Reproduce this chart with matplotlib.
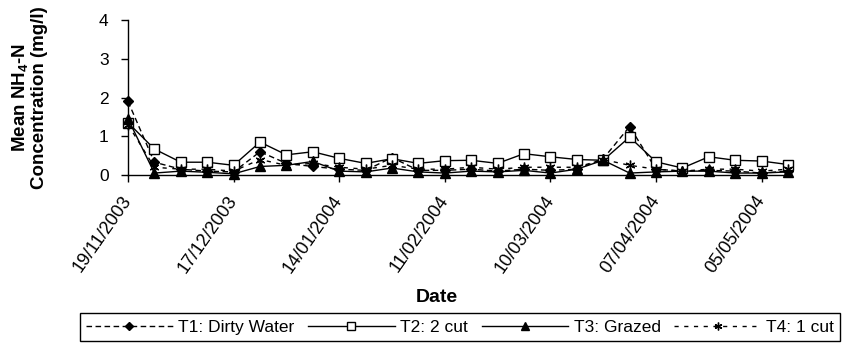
import matplotlib
matplotlib.use("Agg")
import matplotlib.pyplot as plt
import matplotlib.dates as mdates
import pandas as pd

plt.rcParams['font.family'] = ['Liberation Sans', 'DejaVu Sans']
plt.rcParams['mathtext.fontset'] = 'custom'
plt.rcParams['mathtext.rm'] = 'Liberation Sans'
plt.rcParams['mathtext.bf'] = 'Liberation Sans:bold'

# weekly sampling dates
dates = ["19/11/2003", "26/11/2003", "03/12/2003", "10/12/2003", "17/12/2003",
         "24/12/2003", "31/12/2003", "07/01/2004", "14/01/2004", "21/01/2004",
         "28/01/2004", "04/02/2004", "11/02/2004", "18/02/2004", "25/02/2004",
         "03/03/2004", "10/03/2004", "17/03/2004", "24/03/2004", "31/03/2004",
         "07/04/2004", "14/04/2004", "21/04/2004", "28/04/2004", "05/05/2004",
         "12/05/2004"]

# mean NH4-N (mg/l) per treatment
t1_dirty_water = [1.90, 0.33, 0.15, 0.10, 0.08, 0.60, 0.30, 0.22, 0.15, 0.12,
                  0.45, 0.12, 0.12, 0.15, 0.10, 0.15, 0.12, 0.15, 0.42, 1.25,
                  0.15, 0.10, 0.12, 0.10, 0.05, 0.10]
t2_2cut = [1.35, 0.67, 0.33, 0.33, 0.25, 0.85, 0.52, 0.60, 0.43, 0.30,
           0.42, 0.30, 0.37, 0.38, 0.30, 0.55, 0.47, 0.40, 0.38, 0.98,
           0.34, 0.18, 0.47, 0.38, 0.36, 0.27]
t3_grazed = [1.45, 0.05, 0.10, 0.07, 0.03, 0.22, 0.25, 0.35, 0.10, 0.08,
             0.18, 0.08, 0.05, 0.10, 0.08, 0.12, 0.05, 0.15, 0.38, 0.05,
             0.08, 0.10, 0.10, 0.05, 0.05, 0.08]
t4_1cut = [1.30, 0.20, 0.15, 0.15, 0.10, 0.40, 0.25, 0.30, 0.20, 0.15,
           0.25, 0.15, 0.15, 0.20, 0.15, 0.20, 0.20, 0.20, 0.40, 0.25,
           0.15, 0.10, 0.15, 0.15, 0.10, 0.15]

tick_dates = ["19/11/2003", "17/12/2003", "14/01/2004", "11/02/2004",
              "10/03/2004", "07/04/2004", "05/05/2004"]
series_labels = ["T1: Dirty Water", "T2: 2 cut", "T3: Grazed", "T4: 1 cut"]

x = pd.to_datetime(dates, dayfirst=True)
xt = pd.to_datetime(tick_dates, dayfirst=True)

fig = plt.figure(figsize=(8.43, 3.44), dpi=100)
ax = fig.add_axes([128 / 843, 1 - 175 / 344, 660 / 843, 155 / 344])

h1, = ax.plot(x, t1_dirty_water, color='black', lw=1, ls=(0, (4, 2.5)),
              marker='D', ms=5.5, mfc='black', mec='black', clip_on=False)
h2, = ax.plot(x, t2_2cut, color='black', lw=1, ls='-',
              marker='s', ms=6.5, mfc='white', mec='black', mew=1, clip_on=False)
h3, = ax.plot(x, t3_grazed, color='black', lw=1, ls='-',
              marker='^', ms=6.5, mfc='black', mec='black', clip_on=False)
h4, = ax.plot(x, t4_1cut, color='black', lw=1, ls=(0, (3, 4)),
              marker=(6, 2, 0), ms=7, mec='black', mew=1, clip_on=False)

ax.set_xlim(x[0], x[-1])
ax.set_ylim(0, 4)
ax.set_yticks([0, 1, 2, 3, 4])
ax.set_xticks(xt)
ax.xaxis.set_major_formatter(mdates.DateFormatter('%d/%m/%Y'))
ax.tick_params(axis='y', direction='out', length=5, width=1, labelsize=12.5, pad=9)
ax.tick_params(axis='x', direction='out', length=5, width=1, labelsize=13, pad=11)
for lab in ax.get_xticklabels():
    lab.set_rotation(55)
    lab.set_ha('right')
    lab.set_va('center')
    lab.set_rotation_mode('anchor')

for side in ['top', 'right']:
    ax.spines[side].set_visible(False)
for side in ['left', 'bottom']:
    ax.spines[side].set_linewidth(1)
    ax.spines[side].set_color('black')

ax.set_ylabel('Mean NH$_{\\mathbf{4}}$-N\nConcentration (mg/l)',
              fontsize=13.5, fontweight='bold', linespacing=1.0)
ax.yaxis.set_label_coords(-80 / 660, 0.5)

fig.text(437 / 843, 1 - 297 / 344, 'Date', ha='center', va='center',
         fontsize=14, fontweight='bold')

leg = fig.legend([h1, h2, h3, h4], series_labels, loc='center',
                 bbox_to_anchor=(460 / 843, 1 - 327 / 344), ncol=4,
                 fontsize=12.5, frameon=True, fancybox=False, framealpha=1,
                 edgecolor='black', borderpad=0.35, handlelength=5,
                 handletextpad=0.3, columnspacing=0.8, borderaxespad=0,
                 markerscale=0.8)
leg.get_frame().set_linewidth(1)

fig.savefig('out.png', dpi=100)
